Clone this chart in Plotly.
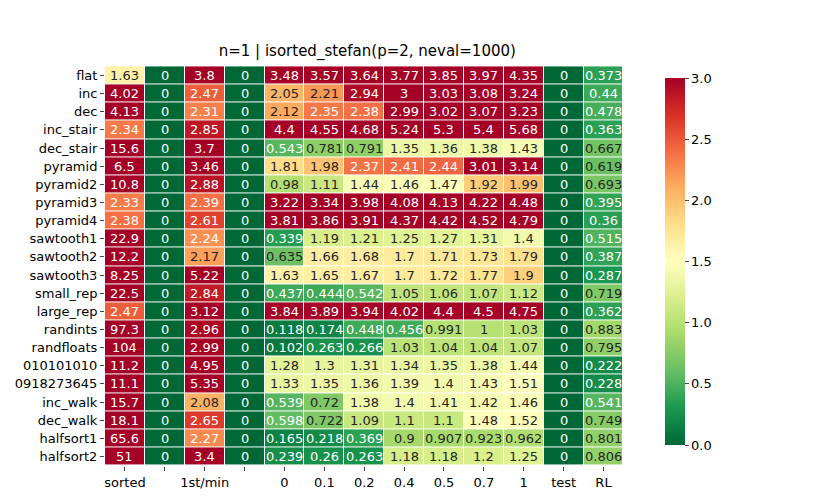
import plotly.graph_objects as go

rows = ["flat", "inc", "dec", "inc_stair", "dec_stair", "pyramid", "pyramid2", "pyramid3", "pyramid4",
        "sawtooth1", "sawtooth2", "sawtooth3", "small_rep", "large_rep", "randints", "randfloats",
        "010101010", "0918273645", "inc_walk", "dec_walk", "halfsort1", "halfsort2"]
cols = ["sorted", "", "1st/min", "", "0", "0.1", "0.2", "0.4", "0.5", "0.7", "1", "test", "RL"]

sorted_col = [1.63, 4.02, 4.13, 2.34, 15.6, 6.5, 10.8, 2.33, 2.38, 22.9, 12.2, 8.25, 22.5, 2.47, 97.3, 104,
              11.2, 11.1, 15.7, 18.1, 65.6, 51]
first_min = [3.8, 2.47, 2.31, 2.85, 3.7, 3.46, 2.88, 2.39, 2.61, 2.24, 2.17, 5.22, 2.84, 3.12, 2.96, 2.99,
             4.95, 5.35, 2.08, 2.65, 2.27, 3.4]
p0 = [3.48, 2.05, 2.12, 4.4, 0.543, 1.81, 0.98, 3.22, 3.81, 0.339, 0.635, 1.63, 0.437, 3.84, 0.118, 0.102,
      1.28, 1.33, 0.539, 0.598, 0.165, 0.239]
p01 = [3.57, 2.21, 2.35, 4.55, 0.781, 1.98, 1.11, 3.34, 3.86, 1.19, 1.66, 1.65, 0.444, 3.89, 0.174, 0.263,
       1.3, 1.35, 0.72, 0.722, 0.218, 0.26]
p02 = [3.64, 2.94, 2.38, 4.68, 0.791, 2.37, 1.44, 3.98, 3.91, 1.21, 1.68, 1.67, 0.542, 3.94, 0.448, 0.266,
       1.31, 1.36, 1.38, 1.09, 0.369, 0.263]
p04 = [3.77, 3, 2.99, 5.24, 1.35, 2.41, 1.46, 4.08, 4.37, 1.25, 1.7, 1.7, 1.05, 4.02, 0.456, 1.03,
       1.34, 1.39, 1.4, 1.1, 0.9, 1.18]
p05 = [3.85, 3.03, 3.02, 5.3, 1.36, 2.44, 1.47, 4.13, 4.42, 1.27, 1.71, 1.72, 1.06, 4.4, 0.991, 1.04,
       1.35, 1.4, 1.41, 1.1, 0.907, 1.18]
p07 = [3.97, 3.08, 3.07, 5.4, 1.38, 3.01, 1.92, 4.22, 4.52, 1.31, 1.73, 1.77, 1.07, 4.5, 1, 1.04,
       1.38, 1.43, 1.42, 1.48, 0.923, 1.2]
p1 = [4.35, 3.24, 3.23, 5.68, 1.43, 3.14, 1.99, 4.48, 4.79, 1.4, 1.79, 1.9, 1.12, 4.75, 1.03, 1.07,
      1.44, 1.51, 1.46, 1.52, 0.962, 1.25]
rl = [0.373, 0.44, 0.478, 0.363, 0.667, 0.619, 0.693, 0.395, 0.36, 0.515, 0.387, 0.287, 0.719, 0.362,
      0.883, 0.795, 0.222, 0.228, 0.541, 0.749, 0.801, 0.806]
zeros = [0] * len(rows)

columns = [sorted_col, zeros, first_min, zeros, p0, p01, p02, p04, p05, p07, p1, zeros, rl]
z = [[columns[j][i] for j in range(len(cols))] for i in range(len(rows))]

rdylgn_r = ["#006837", "#1a9850", "#66bd63", "#a6d96a", "#d9ef8b", "#ffffbf",
            "#fee08b", "#fdae61", "#f46d43", "#d73027", "#a50026"]
cscale = [[i / 10, c] for i, c in enumerate(rdylgn_r)]


def cell_rgb(v):
    t = min(max(v / 3.0, 0), 1) * 10
    i = min(int(t), 9)
    f = t - i
    a = rdylgn_r[i]; b = rdylgn_r[i + 1]
    ca = [int(a[k:k + 2], 16) for k in (1, 3, 5)]
    cb = [int(b[k:k + 2], 16) for k in (1, 3, 5)]
    return [ca[k] + (cb[k] - ca[k]) * f for k in range(3)]


def lum(rgb):
    out = []
    for c in rgb:
        c = c / 255
        out.append(c / 12.92 if c <= 0.03928 else ((c + 0.055) / 1.055) ** 2.4)
    return 0.2126 * out[0] + 0.7152 * out[1] + 0.0722 * out[2]


fig = go.Figure(go.Heatmap(
    z=z, x=list(range(len(cols))), y=list(range(len(rows))),
    colorscale=cscale, zmin=0, zmax=3, xgap=1, ygap=1,
    colorbar=dict(thickness=20, lenmode="pixels", len=387, yanchor="top", y=0.995, x=1.06, xanchor="left",
                  tickvals=[0, 0.5, 1, 1.5, 2, 2.5, 3], ticktext=["0.0", "0.5", "1.0", "1.5", "2.0", "2.5", "3.0"],
                  ticks="outside", ticklen=4, outlinewidth=0, tickfont=dict(size=13)),
))

annos = []
for i in range(len(rows)):
    for j in range(len(cols)):
        v = z[i][j]
        color = "#262626" if lum(cell_rgb(v)) > 0.408 else "white"
        annos.append(dict(x=j, y=i, text=f"{v:.3g}", showarrow=False,
                          font=dict(size=13, color=color)))

fig.update_layout(
    width=826, height=501, plot_bgcolor="white", paper_bgcolor="white",
    font=dict(family="DejaVu Sans", size=13, color="black"),
    title=dict(text="n=1 | isorted_stefan(p=2, neval=1000)", x=0.435, xanchor="center", y=0.925,
               font=dict(size=15)),
    margin=dict(l=97, r=210, t=58, b=43),
    annotations=annos,
    xaxis=dict(tickvals=list(range(len(cols))), ticktext=cols, ticks="outside", ticklen=4,
               showgrid=False, zeroline=False, automargin=False),
    yaxis=dict(tickvals=list(range(len(rows))), ticktext=rows, autorange="reversed", ticks="outside",
               ticklen=4, showgrid=False, zeroline=False, automargin=False),
)
fig.write_html("out.html")
